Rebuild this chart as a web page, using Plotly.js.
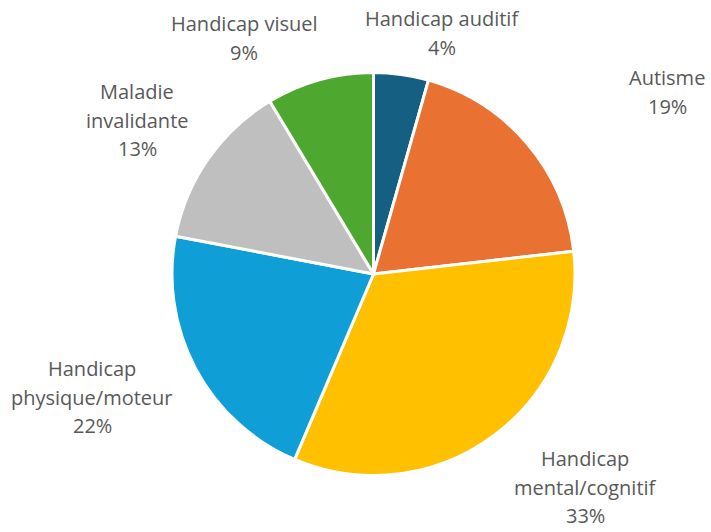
<!DOCTYPE html>
<html>
<head>
<meta charset="utf-8">
<script src="https://cdn.plot.ly/plotly-3.0.1.min.js"></script>
<style>html,body{margin:0;padding:0;background:#fff;}#chart{width:711px;height:532px;}</style>
</head>
<body>
<div id="chart"></div>
<script>
// Data
const categories = ["Handicap auditif", "Autisme", "Handicap mental/cognitif", "Handicap physique/moteur", "Maladie invalidante", "Handicap visuel"];
const labelLines = [["Handicap auditif"], ["Autisme"], ["Handicap", "mental/cognitif"], ["Handicap", "physique/moteur"], ["Maladie", "invalidante"], ["Handicap visuel"]];
const values = [4.4, 18.8, 33.2, 21.6, 13.4, 8.6];
const colors = ["#156082", "#E97132", "#FFC000", "#0F9ED5", "#BFBFBF", "#4EA72E"];

// Layout: label block centres in pixels, line pitch
const W = 711, H = 532;
const labelPos = [[442, 33], [667, 92], [585, 487], [92, 397], [137, 120], [244, 38]];
const pitch = 28.5;

const total = values.reduce((a, b) => a + b, 0);
const annotations = [];
categories.forEach((c, i) => {
  const lines = labelLines[i].concat([Math.round(values[i] / total * 100) + "%"]);
  const n = lines.length;
  lines.forEach((t, j) => {
    const py = labelPos[i][1] + (j - (n - 1) / 2) * pitch;
    annotations.push({
      xref: "paper", yref: "paper",
      x: labelPos[i][0] / W, y: 1 - py / H,
      xanchor: "center", yanchor: "middle",
      text: t, showarrow: false, align: "center",
      font: {family: "Open Sans, sans-serif", size: 20, color: "#595959"}
    });
  });
});

const trace = {
  type: "pie",
  labels: categories,
  values: values,
  sort: false,
  direction: "clockwise",
  rotation: 0,
  textinfo: "none",
  hoverinfo: "label+percent",
  marker: {colors: colors, line: {color: "#ffffff", width: 3}},
  domain: {x: [172 / W, 575 / W], y: [1 - 476 / H, 1 - 72 / H]},
  showlegend: false
};

Plotly.newPlot("chart", [trace], {
  width: W, height: H,
  margin: {l: 0, r: 0, t: 0, b: 0},
  paper_bgcolor: "#ffffff",
  showlegend: false,
  annotations: annotations
}, {staticPlot: true});
</script>
</body>
</html>
